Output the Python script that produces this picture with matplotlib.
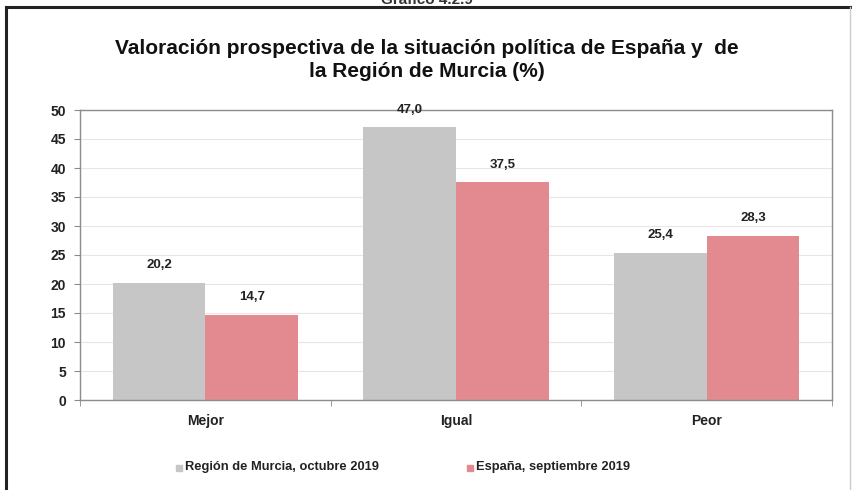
import matplotlib

matplotlib.use("Agg")
import matplotlib.pyplot as plt
import numpy as np
from matplotlib.patches import Rectangle

plt.rcParams["font.family"] = ["Liberation Sans", "DejaVu Sans"]

CATEGORIES = ["Mejor", "Igual", "Peor"]
MURCIA = [20.2, 47.0, 25.4]
ESPANA = [14.7, 37.5, 28.3]
SERIES = ["Región de Murcia, octubre 2019", "España, septiembre 2019"]
TITLE = "Valoración prospectiva de la situación política de España y  de\nla Región de Murcia (%)"

GREY, PINK = "#c6c6c6", "#e38a90"
AXIS = "#8c8c8c"


def fmt(v):
    return f"{v:.1f}".replace(".", ",")


fig = plt.figure(figsize=(8.53, 4.90), dpi=100)

# outer frame of the scanned figure
fig.add_artist(plt.Line2D([0.007, 0.007], [0.0, 0.985], color="#222222", lw=2.2,
                          transform=fig.transFigure))
fig.add_artist(plt.Line2D([0.007, 1.0], [0.985, 0.985], color="#222222", lw=2.2,
                          transform=fig.transFigure))
fig.add_artist(plt.Line2D([0.997, 0.997], [0.0, 0.985], color="#cccccc", lw=1.0,
                          transform=fig.transFigure))
fig.text(0.5, 1.0, "Gráfico 4.2.9", ha="center", va="center", fontsize=11,
         fontweight="bold", color="#333333")

ax = fig.add_axes([80 / 853, 1 - 400 / 490, (832 - 80) / 853, 290 / 490])
x = np.arange(len(CATEGORIES))
w = 0.37
b1 = ax.bar(x - w / 2, MURCIA, w, color=GREY, label=SERIES[0], zorder=2)
b2 = ax.bar(x + w / 2, ESPANA, w, color=PINK, label=SERIES[1], zorder=2)
for bars, vals in [(b1, MURCIA), (b2, ESPANA)]:
    for r, v in zip(bars, vals):
        ax.text(r.get_x() + r.get_width() / 2, v + 2.0, fmt(v), ha="center",
                va="bottom", fontsize=9.5, fontweight="bold", color="#222222")

ax.set_xlim(-0.5, 2.5)
ax.set_ylim(0, 50)
ax.set_yticks(np.arange(0, 51, 5))
ax.set_xticks(x)
ax.set_xticklabels(CATEGORIES)
ax.grid(axis="y", color="#e6e6e6", lw=0.8, zorder=0)
for s in ax.spines.values():
    s.set_color(AXIS)
    s.set_linewidth(1.0)
ax.tick_params(axis="y", length=4, color=AXIS, labelsize=10, pad=6)
ax.tick_params(axis="x", length=0, labelsize=10, pad=10)
for lab in ax.get_xticklabels() + ax.get_yticklabels():
    lab.set_fontweight("bold")
    lab.set_color("#222222")
# minor ticks between categories on the x axis
ax.set_xticks([-0.5, 0.5, 1.5, 2.5], minor=True)
ax.tick_params(axis="x", which="minor", length=4, color=AXIS, direction="out")

fig.text(0.5, 0.877, TITLE, ha="center", va="center", fontsize=15,
         fontweight="bold", color="#111111", linespacing=1.25)

# legend drawn at the bottom
for xs, label, color in [(176, SERIES[0], GREY), (467, SERIES[1], PINK)]:
    fig.add_artist(Rectangle((xs / 853, 1 - 471 / 490), 6 / 853, 6 / 490,
                             color=color, transform=fig.transFigure))
    fig.text((xs + 9) / 853, 1 - 467 / 490, label, ha="left", va="center",
             fontsize=9.3, fontweight="bold", color="#222222")

fig.savefig("out.png", dpi=100)
